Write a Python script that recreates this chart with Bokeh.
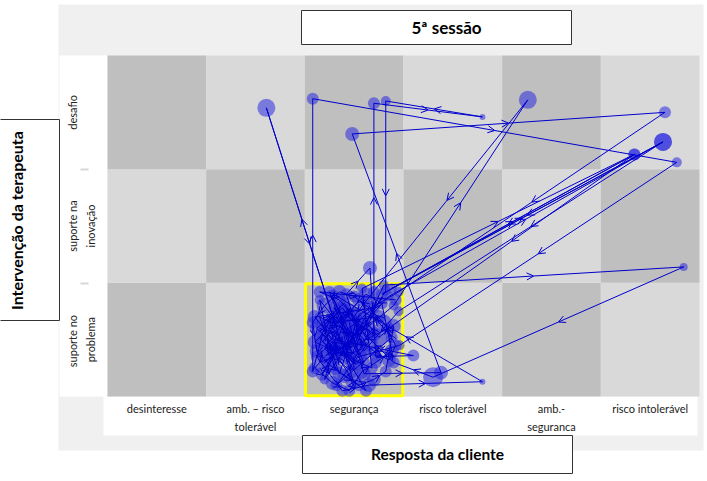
import math
from bokeh.plotting import figure
from bokeh.models import ColumnDataSource, Range1d, Arrow, OpenHead
from bokeh.core.properties import value
from bokeh.embed import file_html
from bokeh.resources import INLINE

# ---------------- data ----------------
client_responses = ["desinteresse", "amb. – risco\ntolerável", "segurança",
                    "risco tolerável", "amb.-\nseguranca", "risco intolerável"]
therapist_interventions = ["suporte  no\nproblema", "suporte na\ninovação", "desafio"]
session_title = "5ª sessão"
x_title = "Resposta da cliente"
y_title = "Intervenção da terapeuta"
attractor_cell = [2, 0]

traj_x = [2.35, 2.52, 2.28, 2.33, 1.61, 2.49, 2.18, 2.08, 2.08, 5.77,
          2.96, 2.55, 2.30, 2.70, 2.70, 2.70, 3.80, 2.82, 2.82, 2.60,
          2.40, 2.20, 2.90, 4.26, 2.62, 2.45, 2.60, 3.38, 2.48, 5.65,
          2.95, 2.55, 2.35, 2.15, 2.50, 2.85, 5.63, 2.88, 5.34, 2.78,
          5.63, 2.95, 2.60, 2.42, 2.66, 2.72, 3.10, 2.30, 2.12, 2.38,
          2.65, 3.80, 2.25, 2.48, 2.80, 5.84, 3.30, 2.90, 2.55, 2.20,
          2.42, 2.10, 2.68, 2.58, 5.34, 2.85, 2.38, 2.62, 2.30, 2.15,
          2.45, 2.75, 2.25, 2.52, 2.12, 2.40, 2.65, 2.32, 2.88, 2.55,
          2.20, 2.47, 2.35, 2.18, 2.60, 2.28, 2.42, 2.70, 2.10, 2.33,
          2.18, 2.30, 2.15, 2.28, 2.42, 2.55, 2.70, 2.85, 2.92, 2.80,
          2.65, 2.50, 2.35, 2.20, 2.08, 2.12, 2.25, 2.40, 2.55, 2.70,
          2.82, 2.90, 2.75, 2.60, 2.45, 2.32, 2.22, 2.38, 2.52, 2.66,
          2.48, 2.35, 2.20, 2.10, 2.28, 2.45, 2.58, 2.72, 2.88, 2.78,
          2.62, 2.45, 2.30, 2.18, 2.40, 2.58, 2.50, 2.35, 2.15, 2.92]
traj_y = [0.62, 0.48, 0.40, 0.58, 2.54, 0.14, 0.55, 0.22, 2.62, 2.06,
          0.45, 0.35, 0.78, 0.55, 0.92, 2.58, 2.46, 2.60, 0.93, 0.62,
          0.45, 0.30, 0.80, 2.61, 0.84, 0.65, 0.20, 0.21, 2.31, 2.50,
          0.92, 0.72, 0.20, 0.70, 0.55, 0.88, 2.24, 0.95, 2.13, 0.90,
          2.24, 0.75, 0.40, 0.90, 1.13, 0.35, 0.36, 0.50, 0.35, 0.05,
          0.10, 0.13, 0.92, 0.38, 0.98, 1.14, 0.17, 0.30, 0.60, 0.15,
          0.72, 0.48, 0.25, 0.95, 2.13, 0.60, 0.40, 0.05, 0.25, 0.85,
          0.52, 0.70, 0.65, 0.28, 0.60, 0.82, 0.48, 0.10, 0.52, 0.85,
          0.42, 0.22, 0.75, 0.62, 0.30, 0.88, 0.58, 0.78, 0.70, 0.45,
          0.20, 0.35, 0.52, 0.70, 0.60, 0.50, 0.40, 0.32, 0.45, 0.65,
          0.78, 0.88, 0.92, 0.80, 0.65, 0.40, 0.28, 0.18, 0.10, 0.15,
          0.22, 0.62, 0.52, 0.68, 0.42, 0.52, 0.62, 0.78, 0.62, 0.58,
          0.30, 0.45, 0.35, 0.25, 0.12, 0.05, 0.22, 0.30, 0.40, 0.82,
          0.90, 0.75, 0.62, 0.48, 0.35, 0.42, 0.70, 0.85, 0.92, 0.85]
duration = [8, 6, 7, 7, 9, 8, 6, 6, 6, 5,
            5, 8, 6, 7, 6, 6, 3, 5, 5, 7,
            9, 6, 5, 9, 6, 7, 7, 7, 7, 6,
            5, 8, 7, 5, 9, 5, 9, 5, 6, 6,
            9, 5, 8, 6, 7, 6, 6, 8, 6, 6,
            7, 3, 6, 7, 5, 4, 10, 6, 7, 5,
            6, 7, 6, 5, 6, 6, 8, 6, 7, 5,
            6, 7, 8, 6, 7, 6, 9, 6, 6, 7,
            8, 7, 8, 7, 6, 7, 9, 6, 7, 8,
            7, 8, 6, 7, 8, 7, 6, 7, 6, 8,
            7, 6, 7, 8, 6, 7, 8, 7, 6, 7,
            6, 7, 9, 8, 9, 8, 7, 8, 7, 8,
            7, 8, 7, 6, 7, 6, 7, 6, 7, 6,
            7, 8, 9, 7, 8, 7, 8, 6, 6, 6]

# ---------------- layout (pixel -> data units) ----------------
W, H = 707, 481
GX0, GX1, GY0, GY1 = 107, 699, 396, 55      # grid edges in pixels
NC, NR = len(client_responses), len(therapist_interventions)
CW = (GX1 - GX0) / NC
CH = (GY0 - GY1) / NR


def dx(X):
    return (X - GX0) / CW


def dy(Y):
    return (GY0 - Y) / CH


p = figure(width=W, height=H, title=None,
           x_range=Range1d(dx(0), dx(W)),
           y_range=Range1d(dy(H), dy(0)),
           x_axis_type=None, y_axis_type=None,
           toolbar_location=None, output_backend="svg", min_border=0,
           outline_line_color=None, background_fill_color="white",
           border_fill_color="white")

FONT = value("Lato")

# outer gray panel
p.quad(left=[dx(58)], right=[dx(703)], top=[dy(4)], bottom=[dy(450)],
       fill_color="#f0f0f0", line_color=None)
# white label panels
p.quad(left=[dx(59)], right=[dx(GX0)], top=[dy(GY1)], bottom=[dy(GY0)],
       fill_color="white", line_color=None)
p.quad(left=[dx(103)], right=[dx(697)], top=[dy(GY0)], bottom=[dy(435)],
       fill_color="white", line_color=None)

# checkerboard cells
cx, cy, cc = [], [], []
for j in range(NR):
    for i in range(NC):
        cx.append(i + 0.5)
        cy.append(j + 0.5)
        cc.append("#bfbfbf" if (i + j) % 2 == 0 else "#d9d9d9")
p.rect(x=cx, y=cy, width=1, height=1, fill_color=cc, line_color=None)

# attractor (yellow) box
p.rect(x=[attractor_cell[0] + 0.5], y=[attractor_cell[1] + 0.5],
       width=0.985, height=0.985, fill_color=None,
       line_color="#ffff00", line_width=3)

# faint separator marks
p.segment(x0=[dx(80), dx(80)], y0=[dy(169), dy(283)],
          x1=[dx(88), dx(88)], y1=[dy(169), dy(283)],
          line_color="#d8d8d8", line_width=2)

# trajectory dots
dots = ColumnDataSource(dict(x=traj_x, y=traj_y,
                             s=[2 * d for d in duration]))
p.scatter("x", "y", size="s", source=dots, fill_color="#2c2ce0",
          fill_alpha=0.55, line_color=None)

# trajectory lines with arrowheads at mid-segment
x0 = traj_x[:-1]
y0 = traj_y[:-1]
x1 = traj_x[1:]
y1 = traj_y[1:]
xm = [(a + b) / 2 for a, b in zip(x0, x1)]
ym = [(a + b) / 2 for a, b in zip(y0, y1)]
seg = ColumnDataSource(dict(x0=x0, y0=y0, x1=x1, y1=y1, xm=xm, ym=ym))
LINE = "#0000cc"
p.segment("xm", "ym", "x1", "y1", source=seg, line_color=LINE, line_width=1)
p.add_layout(Arrow(end=OpenHead(size=7, line_color=LINE, line_width=1),
                   x_start="x0", y_start="y0", x_end="xm", y_end="ym",
                   source=seg, line_color=LINE, line_width=1))

# category labels
p.text(x=[i + 0.5 for i in range(NC)], y=[dy(401)] * NC, text=client_responses,
       text_font=FONT, text_font_size="11px", text_align="center",
       text_baseline="top", text_line_height=1.45, text_color="#222222")
p.text(x=[dx(65)] * NR, y=[j + 0.5 for j in range(NR)],
       text=therapist_interventions, angle=math.pi / 2,
       text_font=FONT, text_font_size="11px", text_align="center",
       text_baseline="top", text_line_height=1.4, text_color="#222222")

# title boxes
p.quad(left=[dx(301)], right=[dx(571)], top=[dy(10)], bottom=[dy(44)],
       fill_color="white", line_color="#333333", line_width=1)
p.text(x=[dx(446)], y=[dy(27)], text=[session_title], text_font=FONT,
       text_font_size="17px", text_font_style="bold", text_align="center",
       text_baseline="middle", text_color="black")

p.quad(left=[dx(302)], right=[dx(572)], top=[dy(435)], bottom=[dy(473)],
       fill_color="white", line_color="#333333", line_width=1)
p.text(x=[dx(437)], y=[dy(453)], text=[x_title], text_font=FONT,
       text_font_size="15.5px", text_font_style="bold", text_align="center",
       text_baseline="middle", text_color="black")

p.quad(left=[dx(-5)], right=[dx(59)], top=[dy(119)], bottom=[dy(320)],
       fill_color="white", line_color="#333333", line_width=1)
p.text(x=[dx(16)], y=[dy(220)], text=[y_title], angle=math.pi / 2,
       text_font=FONT, text_font_size="16px", text_font_style="bold",
       text_align="center", text_baseline="middle", text_color="black")

open("out.html", "w").write(file_html(p, INLINE))
